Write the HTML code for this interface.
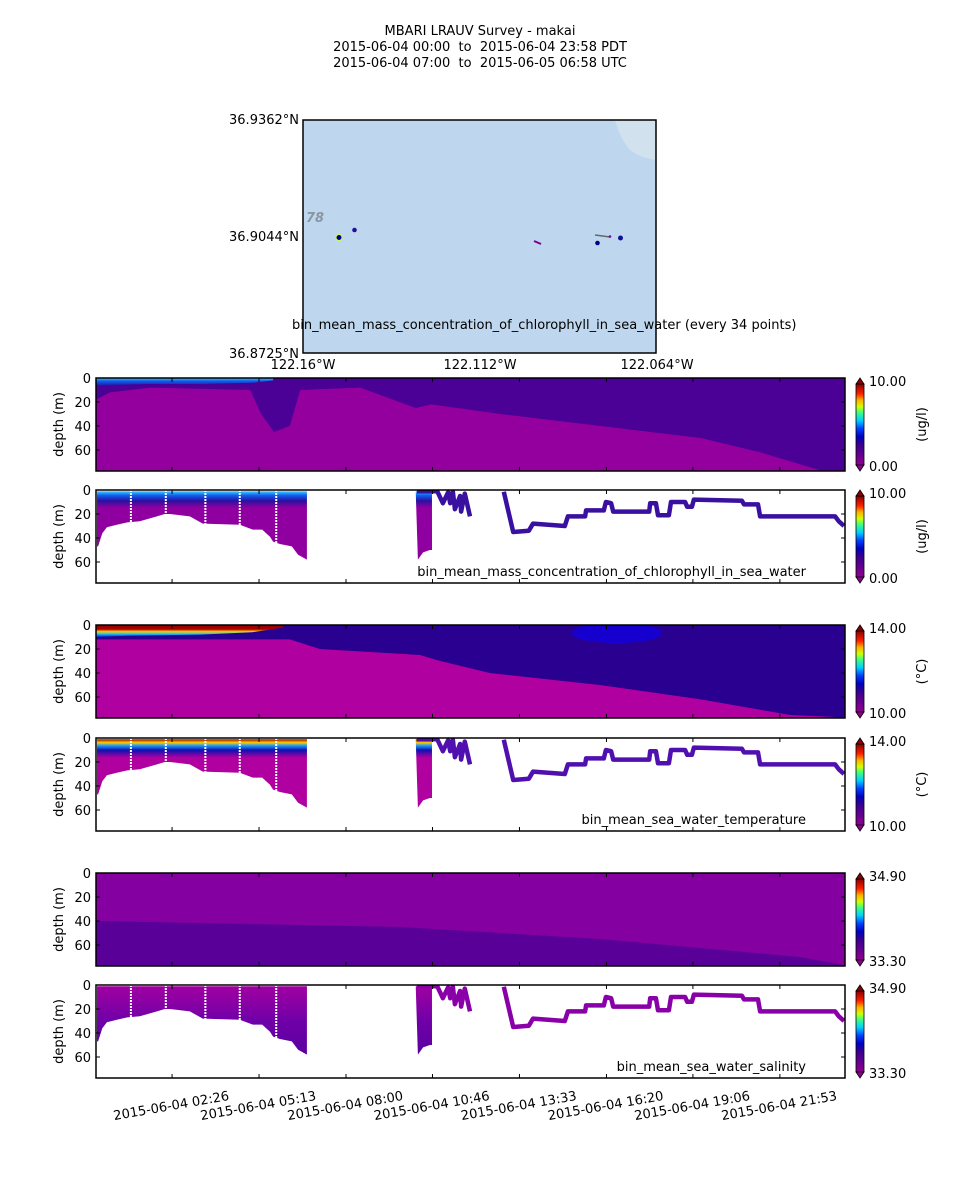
<!DOCTYPE html>
<html><head><meta charset="utf-8"><title>MBARI LRAUV Survey - makai</title>
<style>
html,body{margin:0;padding:0;background:#fff;}
svg{display:block;font-family:"DejaVu Sans","Liberation Sans",sans-serif;}
text{white-space:pre;}
</style></head>
<body>
<svg id="fig" xmlns="http://www.w3.org/2000/svg" width="960" height="1200" viewBox="0 0 960 1200">
<defs>
<linearGradient id="cmap" x1="0" y1="1" x2="0" y2="0">
<stop offset="0" stop-color="#900090"/><stop offset="0.25" stop-color="#3a0090"/><stop offset="0.35" stop-color="#0000c0"/><stop offset="0.45" stop-color="#0040ff"/><stop offset="0.55" stop-color="#00d0ff"/><stop offset="0.65" stop-color="#40ff80"/><stop offset="0.72" stop-color="#d0ff00"/><stop offset="0.8" stop-color="#ffb000"/><stop offset="0.88" stop-color="#ff2000"/><stop offset="1" stop-color="#8b0000"/>
</linearGradient>
<linearGradient id="chlCol" x1="0" y1="0" x2="0" y2="1"><stop offset="0" stop-color="#40d0ff"/><stop offset="0.06" stop-color="#1060f0"/><stop offset="0.14" stop-color="#2a10a0"/><stop offset="0.24" stop-color="#9000a0"/><stop offset="1" stop-color="#9000a0"/></linearGradient>
<linearGradient id="tmpCol" x1="0" y1="0" x2="0" y2="1"><stop offset="0" stop-color="#a00000"/><stop offset="0.05" stop-color="#ffd000"/><stop offset="0.09" stop-color="#20a0ff"/><stop offset="0.16" stop-color="#1010b0"/><stop offset="0.27" stop-color="#b000a0"/><stop offset="1" stop-color="#b000a0"/></linearGradient>
<linearGradient id="salCol" x1="0" y1="0" x2="0" y2="1"><stop offset="0" stop-color="#a000a0"/><stop offset="0.5" stop-color="#7000a8"/><stop offset="1" stop-color="#5a00a0"/></linearGradient>
<linearGradient id="chlSurf" x1="0" y1="0" x2="0" y2="1"><stop offset="0" stop-color="#30d0ff"/><stop offset="0.4" stop-color="#1060f0"/><stop offset="1" stop-color="#2020b0"/></linearGradient>
<linearGradient id="tmpSurf" x1="0" y1="0" x2="0" y2="1"><stop offset="0" stop-color="#900000"/><stop offset="0.35" stop-color="#b00000"/><stop offset="0.55" stop-color="#ffd000"/><stop offset="0.75" stop-color="#20c0ff"/><stop offset="1" stop-color="#1020c0"/></linearGradient>
</defs>
<g id="root"></g>
</svg>
<script>
// ---- data ----
const tickLabels = ["2015-06-04 02:26","2015-06-04 05:13","2015-06-04 08:00","2015-06-04 10:46","2015-06-04 13:33","2015-06-04 16:20","2015-06-04 19:06","2015-06-04 21:53"];
const tickMinutes = [146,313,480,646,813,980,1146,1313];
const depthTicks = [0,20,40,60];
// AUV track (minutes since 00:00 PDT, depth m)
const trackTimes = [616,655,666,676,680,685,689,699,701,708,718];
const trackDepths = [1,1,11,2,11,1,16,5,18,3,22];
const track2Times = [783,801,831,839,900,906,939,941,975,979,989,993,1062,1064,1075,1079,1100,1104,1131,1135,1144,1148,1240,1244,1271,1275,1419,1426,1436];
const track2Depths = [1.5,35,34,28,30,22,22,17,17,10,11,18,18,11,11,21,21,10,10,14,14,8,9,12,12,22,22,26,30];
// yo-yo profile bottom depths
const profTimes = [2,4,12,21,40,60,84,117,132,142,180,205,276,301,319,334,340,353,376,388,405];
const profDepths = [47,47,36,31,29,27,26,22,20,20,22,28,29,33,33,39,43,45,47,54,58];
const prof2Times = [614,618,628,641,645];
const prof2Depths = [3,58,52,50,50];
const gapTimes = [67,134,210,276,346];
// heatmap boundary between upper and lower water masses
const chlBTimes = [0,27,104,296,317,342,372,392,507,614,643,777,969,1161,1276,1391,1438];
const chlBDepths = [18,12,8,10,30,45,40,10,8,25,22,30,40,50,62,77,77];
const chlSurfTimes = [0,100,200,300,340];
const chlSurfDepths = [6,5,5,4,2];
const tmpBTimes = [0,372,430,622,661,756,967,1161,1333,1438];
const tmpBDepths = [12,12,20,25,30,40,50,62,75,77];
const tmpSurfTimes = [0,60,200,300,360];
const tmpSurfDepths = [10,9,8,6,2];
const salBTimes = [0,584,967,1351,1438];
const salBDepths = [40,45,55,70,77];
// colorbar ranges
const cbTop = ["10.00","10.00","14.00","14.00","34.90","34.90"];
const cbBot = ["0.00","0.00","10.00","10.00","33.30","33.30"];
const units = ["(ug/l)","(ug/l)","(\u00b0C)","(\u00b0C)","",""];

// ---- layout ----
const NS="http://www.w3.org/2000/svg";
const root=document.getElementById('root');
const X0=96,X1=845,TMAX=1438,PH=93,DMAX=77.5;
const tops=[378,490,625,738,873,985];
const xs=t=>X0+t/TMAX*(X1-X0);
function mk(tag,attrs,parent){const e=document.createElementNS(NS,tag);for(const k in attrs)e.setAttribute(k,attrs[k]);(parent||root).appendChild(e);return e;}
function txt(s,x,y,attrs,parent){const e=mk('text',Object.assign({x:x,y:y,'font-size':13,fill:'#000'},attrs||{}),parent);e.textContent=s;return e;}

// title
const tg=mk('g',{});


txt("MBARI LRAUV Survey - makai",480,35,{'text-anchor':'middle'},tg);
txt("2015-06-04 00:00  to  2015-06-04 23:58 PDT",480,51,{'text-anchor':'middle'},tg);
txt("2015-06-04 07:00  to  2015-06-05 06:58 UTC",480,67,{'text-anchor':'middle'},tg);

// map
const mg=mk('g',{});


mk('rect',{x:303,y:120,width:353,height:233,fill:'#bfd7ee'},mg);
mk('path',{d:'M615,120 L656,120 L656,160 Q640,158 630,150 Q620,138 615,120Z',fill:'#d2e1ee'},mg);
txt("78",306,222,{'font-size':13,'font-style':'italic','font-weight':'bold',fill:'#8a96a0'},mg);
mk('line',{x1:595,y1:235,x2:610,y2:237,stroke:'#666','stroke-width':1.5},mg);
mk('line',{x1:534,y1:241,x2:541,y2:244,stroke:'#7a0090','stroke-width':2},mg);
mk('circle',{cx:339,cy:237.5,r:3,fill:'#00008b',stroke:'#d0ff40','stroke-width':1},mg);
mk('circle',{cx:354.5,cy:230,r:2.3,fill:'#2010a0'},mg);
mk('circle',{cx:597.5,cy:243,r:2.3,fill:'#00008b'},mg);
mk('circle',{cx:620.5,cy:238,r:2.5,fill:'#10109a'},mg);
mk('circle',{cx:610,cy:236.5,r:1.3,fill:'#8000a0'},mg);
mk('rect',{x:303,y:120,width:353,height:233,fill:'none',stroke:'#000','stroke-width':1.5},mg);
txt("36.9362\u00b0N",299,124,{'text-anchor':'end'},mg);
txt("36.9044\u00b0N",299,241,{'text-anchor':'end'},mg);
txt("36.8725\u00b0N",299,358,{'text-anchor':'end'},mg);
txt("122.16\u00b0W",303,369,{'text-anchor':'middle'},mg);
txt("122.112\u00b0W",480,369,{'text-anchor':'middle'},mg);
txt("122.064\u00b0W",657,369,{'text-anchor':'middle'},mg);
txt("bin_mean_mass_concentration_of_chlorophyll_in_sea_water (every 34 points)",292,329,{},mg);

function boundaryPoly(top,times,depths){
  const ys=d=>top+d/DMAX*PH;
  let p=`M${X0},${top} `;
  for(let i=0;i<times.length;i++)p+=`L${xs(times[i]).toFixed(1)},${ys(depths[i]).toFixed(1)} `;
  p+=`L${X1},${ys(depths[depths.length-1]).toFixed(1)} L${X1},${top}Z`;
  return p;
}

function heatmap(k,g,lower,upper,bT,bD,sT,sD,sFill){
  const top=tops[k];
  const hb=mk('rect',{x:X0,y:top,width:X1-X0,height:PH,fill:lower},g);
  
  
  const up=mk('path',{d:boundaryPoly(top,bT,bD),fill:upper},g);
  
  
  if(sT){
    let p=`M${xs(sT[0])},${top} `;
    for(let i=0;i<sT.length;i++)p+=`L${xs(sT[i]).toFixed(1)},${(top+sD[i]/DMAX*PH).toFixed(1)} `;
    p+=`L${xs(sT[sT.length-1])},${top}Z`;
    const s=mk('path',{d:p,fill:sFill},g);
    
    
  }
}

function profiles(k,g,fill,trackColor){
  const top=tops[k];
  const ys=d=>top+d/DMAX*PH;
  const grad=mk('g',{},g);
  let p=`M${xs(profTimes[0])},${ys(1)} `;
  for(let i=0;i<profTimes.length;i++)p+=`L${xs(profTimes[i]).toFixed(1)},${ys(profDepths[i]).toFixed(1)} `;
  p+=`L${xs(profTimes[profTimes.length-1])},${ys(1)}Z`;
  const a=mk('path',{d:p,fill:fill},grad);
  
  
  let p2=`M${xs(prof2Times[0])},${ys(1)} `;
  for(let i=0;i<prof2Times.length;i++)p2+=`L${xs(prof2Times[i]).toFixed(1)},${ys(prof2Depths[i]).toFixed(1)} `;
  p2+=`L${xs(prof2Times[prof2Times.length-1])},${ys(1)}Z`;
  const b=mk('path',{d:p2,fill:fill},grad);
  
  
  for(const gt of gapTimes){
    const l=mk('line',{x1:xs(gt),y1:top,x2:xs(gt),y2:ys(50),stroke:'#fff','stroke-width':2,'stroke-dasharray':'2,1'},g);
    
    
  }
  for(const [T,D,nm] of [[trackTimes,trackDepths,'track-segment-1'],[track2Times,track2Depths,'track-segment-2']]){
    let d='';
    for(let i=0;i<T.length;i++)d+=(i?'L':'M')+xs(T[i]).toFixed(1)+','+ys(D[i]).toFixed(1)+' ';
    const pl=mk('path',{d:d,fill:'none',stroke:trackColor,'stroke-width':4.5,'stroke-linejoin':'round'},g);
    
    
  }
}

const names=['chl-heatmap-panel','chl-scatter-panel','temp-heatmap-panel','temp-scatter-panel','sal-heatmap-panel','sal-scatter-panel'];
const labels=["","bin_mean_mass_concentration_of_chlorophyll_in_sea_water","","bin_mean_sea_water_temperature","","bin_mean_sea_water_salinity"];
for(let k=0;k<6;k++){
  const top=tops[k];
  const g=mk('g',{});
  
  
  const clip=mk('clipPath',{id:'c'+k},g);mk('rect',{x:X0,y:top,width:X1-X0,height:PH},clip);
  const inner=mk('g',{'clip-path':`url(#c${k})`},g);
  if(k===0)heatmap(k,inner,'#94009e','#4b0096',chlBTimes,chlBDepths,chlSurfTimes,chlSurfDepths,'url(#chlSurf)');
  if(k===2){heatmap(k,inner,'#b0009f','#2a0090',tmpBTimes,tmpBDepths,tmpSurfTimes,tmpSurfDepths,'url(#tmpSurf)');
    mk('ellipse',{cx:xs(1000),cy:top+8,rx:45,ry:10,fill:'#1000e0',opacity:0.8},inner);}
  if(k===4)heatmap(k,inner,'#580098','#8400a0',salBTimes,salBDepths,null,null,null);
  if(k===1)profiles(k,inner,'url(#chlCol)','#3a10a0');
  if(k===3)profiles(k,inner,'url(#tmpCol)','#5010b0');
  if(k===5)profiles(k,inner,'url(#salCol)','#8a00a8');
  // ticks
  for(const d of depthTicks){
    const y=top+d/DMAX*PH;
    mk('line',{x1:X0,y1:y,x2:X0+4,y2:y,stroke:'#000'},g);
    mk('line',{x1:X1-4,y1:y,x2:X1,y2:y,stroke:'#000'},g);
    const t=txt(String(d),91,y+5,{'text-anchor':'end'},g);
    
    
  }
  for(const tm of tickMinutes){
    const x=xs(tm);
    mk('line',{x1:x,y1:top,x2:x,y2:top+4,stroke:'#000'},g);
    mk('line',{x1:x,y1:top+PH-4,x2:x,y2:top+PH,stroke:'#000'},g);
  }
  mk('rect',{x:X0,y:top,width:X1-X0,height:PH,fill:'none',stroke:'#000','stroke-width':1.5},g);
  const yl=txt("depth (m)",0,0,{'text-anchor':'middle',transform:`translate(63,${top+PH/2}) rotate(-90)`},g);
  
  
  if(labels[k]){
    const lb=txt(labels[k],806,top+PH-7,{'text-anchor':'end'},g);
    
    
  }
  // colorbar
  const cb=mk('g',{},g);
  
  
  mk('rect',{x:856,y:top+6,width:8,height:PH-12,fill:'url(#cmap)',stroke:'#000','stroke-width':0.8},cb);
  mk('path',{d:`M856,${top+6} L860,${top} L864,${top+6}Z`,fill:'#8b0000',stroke:'#000','stroke-width':0.8},cb);
  mk('path',{d:`M856,${top+PH-6} L860,${top+PH} L864,${top+PH-6}Z`,fill:'#900090',stroke:'#000','stroke-width':0.8},cb);
  txt(cbTop[k],869,top+8,{},cb);
  txt(cbBot[k],869,top+93,{},cb);
  if(units[k])txt(units[k],0,0,{'text-anchor':'middle',transform:`translate(926,${top+PH/2}) rotate(-90)`},cb);
}
// x tick labels
for(let i=0;i<tickLabels.length;i++){
  const x=xs(tickMinutes[i]);
  const t=txt(tickLabels[i],0,0,{'text-anchor':'middle',transform:`translate(${x.toFixed(1)},1110) rotate(-10)`});
  
  
}
</script>
</body></html>
